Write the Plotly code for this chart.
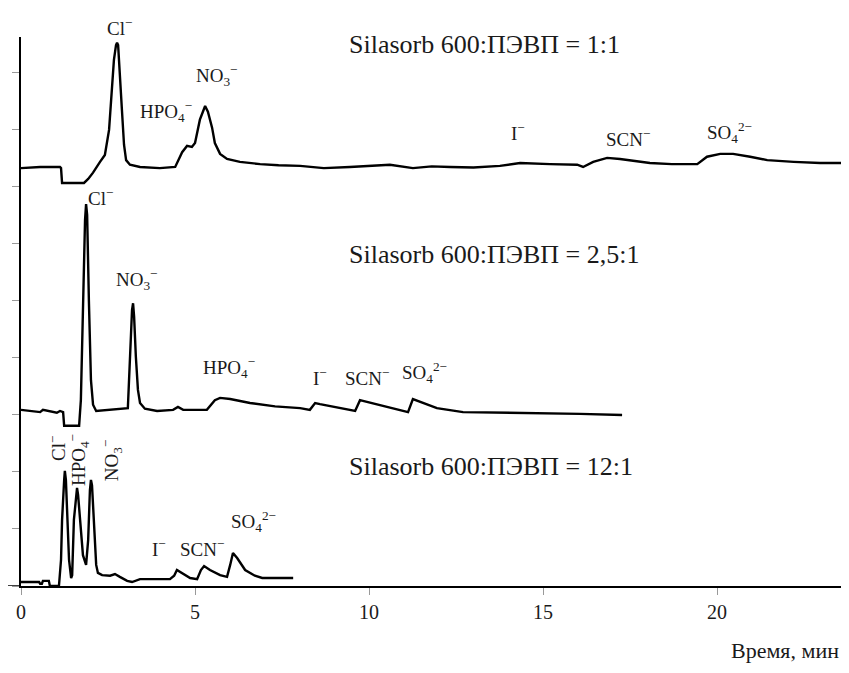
import plotly.graph_objects as go

# ---- data (time in min, signal in arbitrary units, offset per chromatogram) ----
t_11 = [0.00, 0.55, 1.12, 1.15, 1.18, 1.81, 1.93, 2.07, 2.27, 2.41, 2.53, 2.61, 2.67, 2.73, 2.76, 2.79,
        2.84, 2.90, 2.96, 3.02, 3.13, 3.42, 3.99, 4.43, 4.63, 4.77, 4.91, 5.00, 5.14, 5.29, 5.37, 5.49,
        5.57, 5.72, 5.92, 6.29, 6.87, 7.40, 8.02, 8.70, 9.45, 10.10, 10.60, 11.26, 11.80, 12.33, 13.00,
        13.76, 14.34, 15.20, 15.98, 16.15, 16.44, 16.84, 17.21, 18.07, 18.70, 19.43, 19.71, 20.09, 20.46,
        20.95, 21.44, 22.20, 22.96, 23.56]
s_11 = [7.33, 7.35, 7.35, 7.33, 7.07, 7.07, 7.14, 7.25, 7.44, 7.56, 8.00, 8.70, 9.23, 9.49, 9.53, 9.49,
        9.05, 8.35, 7.74, 7.47, 7.39, 7.35, 7.33, 7.35, 7.61, 7.72, 7.70, 7.77, 8.18, 8.42, 8.32, 8.04,
        7.77, 7.58, 7.49, 7.44, 7.40, 7.38, 7.37, 7.33, 7.35, 7.37, 7.39, 7.33, 7.36, 7.35, 7.34,
        7.37, 7.42, 7.40, 7.39, 7.35, 7.44, 7.51, 7.49, 7.42, 7.40, 7.40, 7.53, 7.58, 7.58,
        7.53, 7.47, 7.44, 7.42, 7.42]

t_25 = [0.00, 0.55, 0.63, 1.03, 1.12, 1.21, 1.24, 1.67, 1.72, 1.78, 1.84, 1.87, 1.90, 1.95, 2.01, 2.07,
        2.16, 3.07, 3.13, 3.19, 3.22, 3.25, 3.30, 3.36, 3.42, 3.56, 3.91, 4.37, 4.51, 4.66, 5.34, 5.57,
        5.72, 6.01, 6.58, 7.30, 8.02, 8.30, 8.45, 8.59, 9.60, 9.74, 9.94, 11.12, 11.26, 11.47, 11.95, 12.70,
        14.14, 16.06, 17.27]
s_25 = [3.09, 3.05, 3.09, 3.04, 3.07, 3.05, 2.81, 2.81, 3.26, 5.02, 6.42, 6.70, 6.51, 5.02, 3.61, 3.18,
        3.07, 3.12, 4.02, 4.84, 4.96, 4.72, 4.02, 3.44, 3.21, 3.11, 3.07, 3.09, 3.14, 3.09, 3.09, 3.26,
        3.30, 3.28, 3.21, 3.15, 3.12, 3.09, 3.21, 3.19, 3.07, 3.26, 3.23, 3.05, 3.28, 3.23, 3.12, 3.05,
        3.04, 3.02, 3.00]

t_12 = [0.00, 0.52, 0.55, 0.60, 0.63, 0.80, 0.83, 1.09, 1.15, 1.18, 1.24, 1.26, 1.29, 1.35, 1.38, 1.44,
        1.47, 1.52, 1.58, 1.61, 1.64, 1.70, 1.78, 1.87, 1.93, 1.98, 2.01, 2.04, 2.10, 2.16, 2.21, 2.33,
        2.56, 2.70, 2.84, 3.05, 3.19, 3.42, 4.28, 4.40, 4.48, 4.57, 4.86, 5.06, 5.17, 5.26, 5.43, 5.72,
        5.92, 6.01, 6.09, 6.21, 6.44, 6.72, 6.93, 7.82]
s_12 = [0.07, 0.07, 0.04, 0.04, 0.09, 0.09, 0.00, 0.00, 0.46, 1.16, 1.86, 2.02, 1.86, 0.98, 0.46, 0.14,
        0.19, 1.16, 1.65, 1.72, 1.60, 1.16, 0.54, 0.37, 0.81, 1.68, 1.86, 1.77, 0.98, 0.37, 0.23, 0.19,
        0.18, 0.21, 0.16, 0.09, 0.07, 0.12, 0.12, 0.18, 0.28, 0.25, 0.14, 0.12, 0.28, 0.35, 0.28, 0.19,
        0.16, 0.37, 0.58, 0.49, 0.28, 0.18, 0.14, 0.14]

x_ticks = [0, 5, 10, 15, 20]
x_tick_labels = ["0", "5", "10", "15", "20"]
titles = ["Silasorb 600:ПЭВП = 1:1", "Silasorb 600:ПЭВП = 2,5:1", "Silasorb 600:ПЭВП = 12:1"]

FONT = "Liberation Serif"
M = "−"

fig = go.Figure()
for t, s in [(t_11, s_11), (t_25, s_25), (t_12, s_12)]:
    fig.add_trace(go.Scatter(x=t, y=s, mode="lines", line=dict(color="black", width=2.4),
                             showlegend=False, hoverinfo="skip", cliponaxis=False))

YMAX = 9.63
ann = []
def lab(x, y, text, size=19, angle=0, xanchor="center"):
    ann.append(dict(x=x, y=y / YMAX, xref="x", yref="paper", text=text, showarrow=False, textangle=angle,
                    xanchor=xanchor, yanchor="middle",
                    font=dict(family=FONT, size=size, color="#1a1a1a")))

# titles
lab(9.37, 9.49, titles[0], size=26, xanchor="left")
lab(9.37, 5.81, titles[1], size=26, xanchor="left")
lab(9.37, 2.09, titles[2], size=26, xanchor="left")

# trace 1 labels
lab(2.84, 9.81, "Cl<sup>" + M + "</sup>")
lab(4.17, 8.32, "HPO<sub>4</sub><sup>" + M + "</sup>")
lab(5.63, 8.96, "NO<sub>3</sub><sup>" + M + "</sup>")
lab(14.28, 7.96, "I<sup>" + M + "</sup>")
lab(17.44, 7.86, "SCN<sup>" + M + "</sup>")
lab(20.37, 7.95, "SO<sub>4</sub><sup>2" + M + "</sup>")
# trace 2 labels
lab(2.27, 6.82, "Cl<sup>" + M + "</sup>")
lab(3.33, 5.37, "NO<sub>3</sub><sup>" + M + "</sup>")
lab(5.98, 3.84, "HPO<sub>4</sub><sup>" + M + "</sup>")
lab(8.59, 3.67, "I<sup>" + M + "</sup>")
lab(9.94, 3.67, "SCN<sup>" + M + "</sup>")
lab(11.58, 3.74, "SO<sub>4</sub><sup>2" + M + "</sup>")
# trace 3 labels
lab(1.03, 2.42, "Cl<sup>" + M + "</sup>", angle=-90)
lab(1.64, 2.21, "HPO<sub>4</sub><sup>" + M + "</sup>", angle=-90)
lab(2.59, 2.21, "NO<sub>3</sub><sup>" + M + "</sup>", angle=-90)
lab(3.97, 0.67, "I<sup>" + M + "</sup>")
lab(5.20, 0.67, "SCN<sup>" + M + "</sup>")
lab(6.67, 1.14, "SO<sub>4</sub><sup>2" + M + "</sup>")

# x-axis title
ann.append(dict(x=1, y=-0.117, xref="paper", yref="paper", text="Время, мин", showarrow=False,
                xanchor="right", yanchor="middle", font=dict(family=FONT, size=22, color="#1a1a1a")))

# page body has an 8 px margin: size and margins compensate so the plot lands where the reference has it
fig.update_layout(
    width=833, height=657,
    margin=dict(l=13, r=0, t=29, b=79),
    paper_bgcolor="white", plot_bgcolor="white",
    annotations=ann,
    shapes=[dict(type="line", xref="paper", yref="y", x0=-0.016, x1=0, y0=0, y1=0,
                 line=dict(color="black", width=1.5))],
    xaxis=dict(range=[0, 23.56], showgrid=False, zeroline=False, showline=True, linecolor="black",
               linewidth=1.5, ticks="outside", ticklen=7, tickcolor="#999", tickwidth=1,
               tickvals=x_ticks, ticktext=x_tick_labels,
               tickfont=dict(family=FONT, size=20, color="#1a1a1a")),
    yaxis=dict(range=[0, YMAX], showgrid=False, zeroline=False, showline=True, linecolor="black",
               linewidth=1.5, ticks="outside", ticklen=7, tickcolor="#999", tickwidth=1,
               dtick=1, tick0=0, showticklabels=False),
)

fig.write_html("out.html")
